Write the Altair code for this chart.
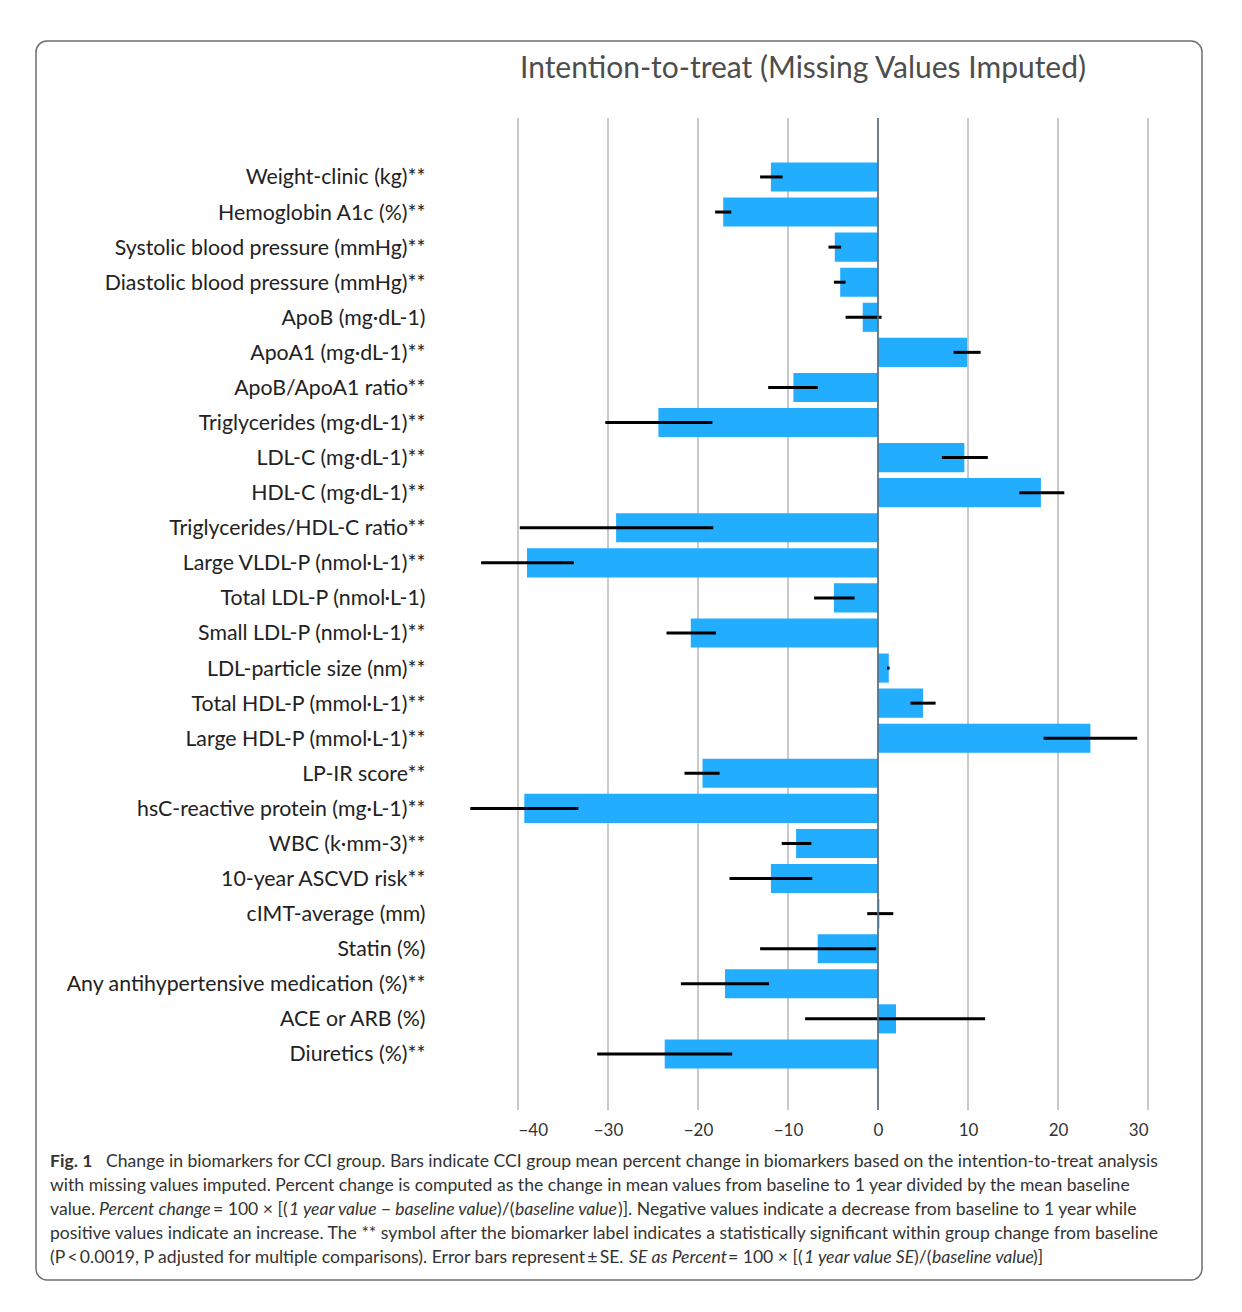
import altair as alt
import pandas as pd

labels = [
    "Weight-clinic (kg)**", "Hemoglobin A1c (%)**", "Systolic blood pressure (mmHg)**",
    "Diastolic blood pressure (mmHg)**", "ApoB (mg·dL-1)", "ApoA1 (mg·dL-1)**",
    "ApoB/ApoA1 ratio**", "Triglycerides (mg·dL-1)**", "LDL-C (mg·dL-1)**",
    "HDL-C (mg·dL-1)**", "Triglycerides/HDL-C ratio**", "Large VLDL-P (nmol·L-1)**",
    "Total LDL-P (nmol·L-1)", "Small LDL-P (nmol·L-1)**", "LDL-particle size (nm)**",
    "Total HDL-P (mmol·L-1)**", "Large HDL-P (mmol·L-1)**", "LP-IR score**",
    "hsC-reactive protein (mg·L-1)**", "WBC (k·mm-3)**", "10-year ASCVD risk**",
    "cIMT-average (mm)", "Statin (%)", "Any antihypertensive medication (%)**",
    "ACE or ARB (%)", "Diuretics (%)**",
]
change = [-11.9, -17.2, -4.8, -4.2, -1.7, 9.9, -9.4, -24.4, 9.6, 18.1, -29.1, -39.0, -4.9,
          -20.8, 1.2, 5.0, 23.6, -19.5, -39.3, -9.1, -11.9, 0.15, -6.7, -17.0, 2.0, -23.7]
err_lo = [-13.1, -18.1, -5.5, -4.9, -3.6, 8.4, -12.2, -30.3, 7.1, 15.7, -39.8, -44.1, -7.1,
          -23.5, 1.0, 3.6, 18.4, -21.5, -45.3, -10.7, -16.5, -1.2, -13.1, -21.9, -8.1, -31.2]
err_hi = [-10.6, -16.3, -4.1, -3.6, 0.4, 11.4, -6.7, -18.4, 12.2, 20.7, -18.3, -33.8, -2.6,
          -18.0, 1.3, 6.4, 28.8, -17.6, -33.3, -7.4, -7.3, 1.7, -0.2, -12.1, 11.9, -16.2]
x_ticks = [-40, -30, -20, -10, 0, 10, 20, 30]

title_text = "Intention-to-treat (Missing Values Imputed)"

TS = "\u2009"  # thin space
# caption segments: text, style, line index, x offset (px from plot left)
cap_text = [
    "Fig. 1",
    "Change in biomarkers for CCI group. Bars indicate CCI group mean percent change in biomarkers based on the intention-to-treat analysis",
    "with missing values imputed. Percent change is computed as the change in mean values from baseline to 1 year divided by the mean baseline",
    "value.", "Percent change", "= 100 ×  [(", "1 year value − baseline value", ")/(", "baseline value",
    ")]. Negative values indicate a decrease from baseline to 1 year while",
    "positive values indicate an increase. The ** symbol after the biomarker label indicates a statistically significant within group change from baseline",
    f"(P{TS}<{TS}0.0019, P adjusted for multiple comparisons). Error bars represent{TS}±{TS}SE.",
    "SE as Percent", "= 100 ×  [(", "1 year value SE", ")/(", "baseline value", ")]",
]
cap_style = ["bold", "normal", "normal",
             "normal", "italic", "normal", "italic", "normal", "italic", "normal",
             "normal",
             "normal", "italic", "normal", "italic", "normal", "italic", "normal"]
cap_line = [0, 0, 1, 2, 2, 2, 2, 2, 2, 2, 3, 4, 4, 4, 4, 4, 4, 4]
cap_x = [-468, -412, -468,
         -468, -419, -305, -229, -21, -3, 100,
         -468,
         -468, 111, 210, 286, 396, 414, 515]

W, H = 630, 992
FONT = "Lato"

df = pd.DataFrame({"label": labels, "change": change, "lo": err_lo, "hi": err_hi})
ticks_df = pd.DataFrame({"t": x_ticks})
cap = pd.DataFrame({"text": cap_text, "style": cap_style,
                    "px": cap_x, "py": [1044 + 24 * l for l in cap_line]})

yenc = alt.Y("label:N", sort=labels, title=None,
             scale=alt.Scale(range=[44.4, 950.5], paddingInner=0.17, paddingOuter=0),
             axis=alt.Axis(ticks=False, domain=False, labelPadding=93, labelFontSize=21.3,
                           labelOffset=1.5,
                           labelColor="#222222", labelFont=FONT, labelLimit=600, grid=False))
xenc = alt.X("change:Q", title=None,
             scale=alt.Scale(domain=[-40, 30], nice=False),
             axis=alt.Axis(values=x_ticks, grid=False,
                           domain=False, ticks=False, labelPadding=12, labelFontSize=17,
                           labelColor="#333333", labelFont=FONT))

grid = alt.Chart(ticks_df).mark_rule(color="#c9c9c9", strokeWidth=2).encode(
    x=alt.X("t:Q"))
bars = alt.Chart(df).mark_bar(color="#22adff").encode(x=xenc, y=yenc)
errs = alt.Chart(df).mark_rule(color="black", strokeWidth=3).encode(
    x=alt.X("lo:Q"), x2="hi:Q", y=alt.Y("label:N", sort=labels))
zero = alt.Chart(alt.Data(values=[{}])).mark_rule(color="#5b6b7b", strokeWidth=1.6).encode(
    x=alt.datum(0))

frame = alt.Chart(alt.Data(values=[{}])).mark_rect(
    fill=None, stroke="#6e6e6e", strokeWidth=1.5, cornerRadius=11).encode(
    x=alt.value(-482), x2=alt.value(684), y=alt.value(-77), y2=alt.value(1162))

title = alt.Chart(alt.Data(values=[{"t": title_text}])).mark_text(
    font=FONT, fontSize=30, color="#4d4d4d", align="center", baseline="middle").encode(
    text="t:N", x=alt.value(285), y=alt.value(-49))

def cap_layer(style):
    kw = {}
    if style == "bold":
        kw["fontWeight"] = "bold"
    if style == "italic":
        kw["fontStyle"] = "italic"
    return alt.Chart(cap).transform_filter(alt.datum.style == style).mark_text(
        font=FONT, fontSize=17.6, color="#333333", align="left", baseline="middle", **kw
    ).encode(text="text:N",
             x=alt.X("px:Q", scale=None, axis=None),
             y=alt.Y("py:Q", scale=None, axis=None))

chart = alt.layer(
    frame, grid, bars, errs, zero, title,
    cap_layer("bold"), cap_layer("normal"), cap_layer("italic"),
).properties(
    width=W, height=H, autosize="none", background="white",
    padding={"left": 510, "top": 110, "right": 86, "bottom": 190},
).configure_view(stroke=None)

chart.save("out.html", embed_options={"renderer": "svg", "actions": False})
